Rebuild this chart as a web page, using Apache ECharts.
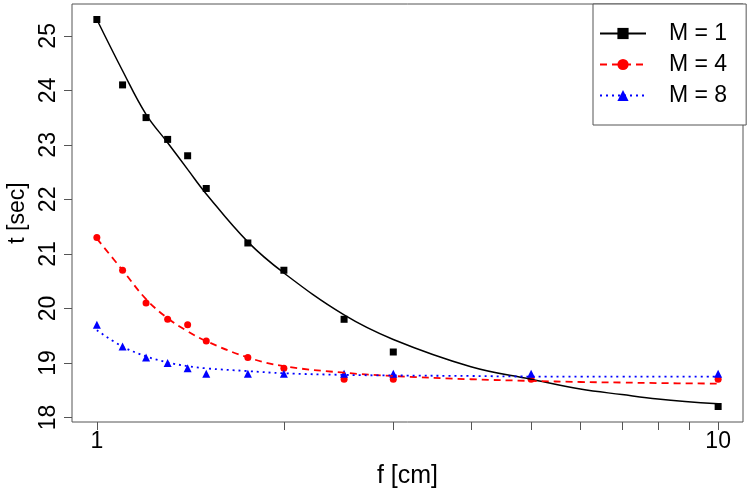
<!DOCTYPE html>
<html>
<head>
<meta charset="utf-8">
<script src="https://cdn.jsdelivr.net/npm/echarts@6/dist/echarts.min.js"></script>
<style>
  html, body { margin: 0; padding: 0; background: #fff; }
  #chart { width: 750px; height: 491px; }
</style>
</head>
<body>
<div id="chart"></div>
<script>
// measured points
const fValues = [1, 1.1, 1.2, 1.3, 1.4, 1.5, 1.75, 2, 2.5, 3, 5, 10];
const tM1 = [25.3, 24.1, 23.5, 23.1, 22.8, 22.2, 21.2, 20.7, 19.8, 19.2, null, 18.2];
const tM4 = [21.3, 20.7, 20.1, 19.8, 19.7, 19.4, 19.1, 18.9, 18.7, 18.7, 18.7, 18.7];
const tM8 = [19.7, 19.3, 19.1, 19.0, 18.9, 18.8, 18.8, 18.8, 18.8, 18.8, 18.8, 18.8];

// fitted curves
const fitF = [1, 1.1, 1.2, 1.3, 1.4, 1.5, 1.75, 2, 2.5, 3, 4, 5, 6, 7, 8, 10];
const fitM1 = [25.3, 24.36, 23.56, 23.04, 22.55, 22.1, 21.22, 20.65, 19.88, 19.43, 18.93, 18.7, 18.52, 18.42, 18.34, 18.25];
const fitM4 = [21.28, 20.7, 20.17, 19.82, 19.58, 19.4, 19.1, 18.94, 18.82, 18.76, 18.7, 18.67, 18.65, 18.64, 18.63, 18.62];
const fitM8 = [19.6, 19.3, 19.12, 19.01, 18.94, 18.9, 18.85, 18.81, 18.78, 18.77, 18.76, 18.75, 18.75, 18.75, 18.75, 18.75];

const xTicks = [1, 2, 3, 4, 5, 6, 7, 8, 9, 10];
const xLabels = [1, 10];
const yTicks = [18, 19, 20, 21, 22, 23, 24, 25];
const seriesNames = ["M = 1", "M = 4", "M = 8"];

const font = "Liberation Sans, Arial, sans-serif";
const frame = "#555";

const pairs = (xs, ys) => xs.map((x, i) => [x, ys[i]]).filter((p) => p[1] != null);

const chart = echarts.init(document.getElementById("chart"));

const option = {
  animation: false,
  textStyle: { fontFamily: font },
  grid: {
    left: 72,
    right: 7,
    top: 4,
    bottom: 69,
    containLabel: false,
    outerBoundsMode: "none",
    show: true,
    borderColor: frame,
    borderWidth: 1,
    backgroundColor: "#fff",
  },
  legend: {
    data: seriesNames,
    left: 593,
    top: 4,
    orient: "vertical",
    padding: [18, 19, 18, 6],
    itemGap: 8,
    itemWidth: 46,
    itemHeight: 14,
    backgroundColor: "#fff",
    borderColor: frame,
    borderWidth: 1,
    textStyle: {
      fontFamily: font,
      fontSize: 23,
      color: "#000",
      padding: [0, 0, 0, 18],
    },
  },
  xAxis: {
    type: "log",
    logBase: 10,
    min: 0.912,
    max: 10.965,
    name: "f [cm]",
    nameLocation: "middle",
    nameGap: 42,
    nameTextStyle: { fontFamily: font, fontSize: 25, color: "#000" },
    axisLine: { show: false },
    splitLine: { show: false },
    axisTick: {
      show: true,
      length: 8,
      customValues: xTicks,
      lineStyle: { color: frame },
    },
    axisLabel: {
      customValues: xLabels,
      fontFamily: font,
      fontSize: 23,
      color: "#000",
      margin: 8,
    },
  },
  yAxis: {
    type: "value",
    min: 17.916,
    max: 25.584,
    name: "t [sec]",
    nameLocation: "middle",
    nameGap: 41,
    nameTextStyle: { fontFamily: font, fontSize: 23, color: "#000" },
    axisLine: { show: false },
    splitLine: { show: false },
    axisTick: {
      show: true,
      length: 8,
      customValues: yTicks,
      lineStyle: { color: frame },
    },
    axisLabel: {
      customValues: yTicks,
      rotate: 90,
      fontFamily: font,
      fontSize: 23,
      color: "#000",
      margin: 12,
    },
  },
  series: [
    {
      name: "M = 1",
      type: "line",
      smooth: 0.4,
      symbol: "rect",
      symbolSize: 9,
      showSymbol: false,
      itemStyle: { color: "#000" },
      lineStyle: { color: "#000", width: 1.5, type: "solid" },
      data: pairs(fitF, fitM1),
    },
    {
      name: "M = 4",
      type: "line",
      smooth: 0.4,
      symbol: "circle",
      symbolSize: 9,
      showSymbol: false,
      itemStyle: { color: "#ff0000" },
      lineStyle: { color: "#ff0000", width: 1.8, type: [7, 5] },
      data: pairs(fitF, fitM4),
    },
    {
      name: "M = 8",
      type: "line",
      smooth: 0.4,
      symbol: "triangle",
      symbolSize: 9,
      showSymbol: false,
      itemStyle: { color: "#0000ff" },
      lineStyle: { color: "#0000ff", width: 1.8, type: [2, 4] },
      data: pairs(fitF, fitM8),
    },
    {
      name: "pts1",
      type: "scatter",
      symbol: "rect",
      symbolSize: 7,
      itemStyle: { color: "#000", opacity: 1 },
      data: pairs(fValues, tM1),
    },
    {
      name: "pts4",
      type: "scatter",
      symbol: "circle",
      symbolSize: 7,
      itemStyle: { color: "#ff0000", opacity: 1 },
      data: pairs(fValues, tM4),
    },
    {
      name: "pts8",
      type: "scatter",
      symbol: "triangle",
      symbolSize: 8,
      itemStyle: { color: "#0000ff", opacity: 1 },
      data: pairs(fValues, tM8),
    },
  ],
};

chart.setOption(option);
</script>
</body>
</html>
